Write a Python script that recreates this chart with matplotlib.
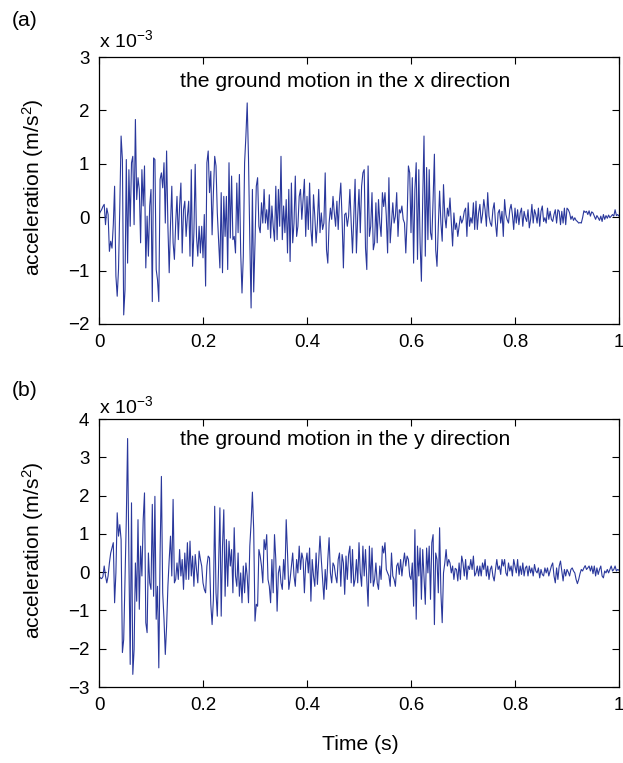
import matplotlib
matplotlib.use('Agg')
import matplotlib.pyplot as plt
import numpy as np

plt.rcParams['font.family'] = ['Liberation Sans', 'DejaVu Sans']
plt.rcParams['mathtext.fontset'] = 'custom'
plt.rcParams['mathtext.rm'] = 'Liberation Sans'
plt.rcParams['mathtext.it'] = 'Liberation Sans:italic'

# ground acceleration in units of 1e-3 m/s^2
# one row = 0.1 s (40 samples), last value is t = 1
acc_x = [
    0.05, 0.10, 0.14, 0.20, 0.24, -0.14, 0.17, 0.05, -0.64, -0.45, -0.58, -0.14, 0.58, -1.10, -1.48, -0.98, 0.20, 1.52, 1.08, -1.83,
    -1.36, 1.08, -0.86, 0.89, -0.17, 1.02, 1.14, -0.14, 1.83, 0.33, 0.74, 0.52, -0.48, 0.89, 0.21, 0.96, -0.95, 0.02, -0.73, 0.21,
    0.52, -1.58, 1.11, 1.08, -0.98, -1.17, -1.58, 0.71, 0.83, 0.55, 1.02, -0.11, 1.24, -0.17, -1.04, -0.14, 0.58, -0.48, -0.79, -0.11,
    0.39, -0.42, 0.21, 0.64, -0.67, 0.14, 0.30, -0.36, 0.02, 0.30, -0.73, 0.89, -0.92, -0.29, 0.99, -0.36, -0.73, -0.17, -0.67, -0.17,
    -0.76, 0.05, -1.29, 1.02, 1.24, 0.46, 0.86, -0.33, 0.46, 1.14, 0.96, 0.08, -0.45, -0.95, 0.46, -1.04, 0.39, -0.36, 0.39, -0.98,
    1.02, -0.39, 0.77, -0.42, -0.36, -0.67, 0.64, -0.29, 0.80, -0.67, -1.42, -0.73, 1.02, 1.52, 2.14, 1.10, -0.42, -1.70, 0.52, -1.40,
    -0.48, 0.58, 0.74, -0.17, -0.29, 0.27, -0.11, 0.52, -0.11, 0.14, -0.23, 0.42, -0.39, 0.21, -0.17, -0.45, 0.58, -0.42, 0.52, -0.17,
    1.14, -0.42, 0.21, -0.29, 0.33, -0.67, 0.52, -0.83, 0.64, -0.48, -0.11, 0.77, -0.36, -0.17, 0.39, 0.52, -0.04, 0.33, 0.71, -0.36,
    0.39, -0.23, 0.64, -0.23, -0.54, 0.42, 0.02, -0.48, -0.11, 0.52, -0.29, 0.08, -0.23, -0.11, 0.83, -0.61, -0.86, -0.11, 0.17, -0.04,
    0.39, 0.08, -0.17, 0.30, -0.23, 0.33, 0.64, -0.04, -0.95, 0.05, 0.08, -0.17, 0.02, 0.52, -0.11, -0.67, 0.02, 0.71, -0.67, 0.02,
    0.52, -0.29, 0.58, 0.83, 0.89, -0.58, -0.98, 0.96, -0.36, -0.17, 0.46, -0.61, -0.48, 0.27, -0.48, 0.33, -0.11, -0.36, 0.46, 0.20,
    0.46, 0.02, -0.67, 0.74, -0.48, -0.11, 0.27, -0.11, 0.02, 0.46, -0.36, 0.14, 0.08, 0.21, -0.04, -0.11, -0.67, -0.04, 0.96, 0.83,
    -0.29, 0.74, -0.86, 0.52, 1.02, -0.79, 0.89, -0.48, -1.20, 0.33, 1.52, -0.73, 0.93, -0.42, 0.89, -0.29, -0.42, 0.33, 1.18, -0.61,
    -0.92, -0.17, 0.49, -0.11, -0.45, 0.61, 0.02, -0.20, 0.17, 0.02, 0.36, -0.11, -0.54, 0.08, -0.23, -0.11, -0.36, -0.17, 0.02, -0.11,
    -0.04, 0.11, 0.17, -0.36, 0.27, -0.17, -0.01, -0.11, 0.27, -0.23, 0.30, -0.23, 0.08, 0.24, -0.11, 0.05, 0.33, 0.14, -0.17, 0.46,
    0.02, -0.11, -0.17, 0.14, 0.27, -0.11, -0.36, 0.08, 0.14, -0.11, 0.11, -0.36, 0.33, 0.05, -0.05, -0.11, 0.14, 0.24, 0.05, -0.23,
    0.17, -0.11, 0.14, -0.14, 0.08, 0.17, -0.17, 0.11, -0.01, -0.08, 0.14, -0.20, -0.04, 0.24, -0.11, 0.14, 0.05, -0.11, 0.17, -0.17,
    0.11, 0.21, -0.08, -0.01, -0.11, 0.17, -0.04, 0.11, -0.04, -0.08, 0.05, 0.14, -0.11, 0.14, 0.11, -0.14, 0.11, -0.11, 0.17, -0.14,
    0.17, 0.14, 0.08, -0.04, 0.02, -0.06, -0.01, -0.06, -0.08, -0.11, -0.10, -0.11, -0.01, 0.12, 0.09, 0.11, 0.05, 0.12, 0.02, 0.10,
    0.08, 0.02, -0.04, 0.03, -0.01, -0.06, 0.02, -0.08, 0.05, -0.04, 0.03, -0.02, 0.04, -0.01, 0.02, 0.05, 0.02, 0.14, 0.03, 0.05,
    0.02,
]

acc_y = [
    -0.10, -0.15, -0.17, -0.12, 0.16, -0.10, -0.28, -0.10, 0.24, 0.50, 0.63, 0.77, -0.80, -0.02, 1.55, 0.94, 1.24, 0.85, -2.10, -1.76,
    -0.19, 1.37, 3.49, 0.33, -2.41, 1.81, -2.67, -2.02, 0.24, -0.76, 1.37, -0.97, 0.68, -0.10, 1.37, 2.07, -1.32, -1.58, 0.50, -0.28,
    -0.45, 1.77, -0.63, 1.98, -1.23, -0.37, -2.50, 0.50, 2.50, -0.54, -1.23, -2.15, -1.41, -0.37, 0.33, 0.94, -0.10, 1.90, -0.28, -0.19,
    0.24, -0.19, 0.59, -0.10, 0.33, -0.45, 0.50, -0.19, 0.77, -0.19, 0.81, -0.10, 0.42, -0.37, 0.46, 0.07, -0.28, 0.55, 0.33, 0.16,
    -0.28, -0.45, -0.54, 0.16, 0.42, 0.37, -0.84, -1.37, -0.71, 1.72, -0.54, -1.15, 0.16, 1.68, -1.15, 0.68, 1.63, -0.63, 0.85, -0.37,
    0.81, 0.16, 0.59, -0.54, 1.16, -0.10, -0.37, 0.50, -0.63, -0.02, -0.80, 0.16, -0.54, 0.24, -0.10, -0.80, 0.68, 1.29, 2.09, 1.11,
    -1.28, -0.84, -0.89, 0.59, 0.42, 0.16, -0.28, 0.85, 0.59, 0.98, -0.19, -0.37, -0.80, 0.33, -0.54, 0.98, 0.33, -1.02, -0.02, 0.16,
    -0.28, -0.45, 0.33, -0.19, 1.37, 0.50, -0.45, -0.19, 0.16, 0.50, -0.10, -0.37, 0.33, -0.02, 0.68, 0.07, 0.50, 0.33, -0.54, 0.24,
    0.50, -0.02, 0.63, -0.76, 0.33, -0.10, -0.37, 0.50, -0.32, 0.33, 0.94, 0.33, -0.19, -0.71, 0.07, -0.45, 0.33, 0.90, -0.02, -0.28,
    0.24, 0.16, -0.10, -0.28, 0.33, 0.50, -0.37, 0.46, 0.24, -0.58, 0.42, -0.19, 0.46, 0.68, -0.28, 0.59, -0.37, -0.19, 0.33, -0.28,
    0.77, -0.02, -0.37, 0.68, -0.10, 0.59, -0.19, -0.89, 0.68, -0.28, 0.63, -0.37, -0.19, 0.24, -0.28, -0.45, 0.16, -0.19, 0.68, 0.50,
    0.77, 0.07, -0.02, -0.10, -0.37, 0.50, -0.10, -0.19, -0.37, 0.16, 0.24, -0.06, 0.33, -0.10, 0.24, 0.50, 0.16, 0.42, 0.33, -0.10,
    -0.19, 0.24, -0.89, 1.11, -1.23, 0.68, -0.10, 0.63, -0.71, 0.59, -0.10, -0.84, 0.63, -0.02, 0.68, -0.71, 0.77, 0.98, -1.37, 0.50,
    0.33, -0.54, 1.16, -0.54, -1.32, -0.02, 0.24, 0.59, 0.16, 0.33, 0.24, -0.02, 0.16, -0.19, 0.10, 0.07, -0.23, 0.24, -0.19, 0.42,
    0.24, -0.10, 0.33, -0.19, 0.16, 0.07, 0.33, 0.07, 0.42, -0.10, -0.02, 0.16, -0.10, 0.16, -0.10, 0.24, 0.07, 0.33, -0.10, 0.16,
    -0.19, 0.07, 0.16, -0.10, -0.23, 0.07, 0.33, 0.07, 0.16, -0.06, 0.33, 0.16, 0.33, -0.02, -0.10, 0.24, 0.03, 0.16, -0.10, 0.33,
    0.16, -0.02, 0.33, -0.10, 0.16, -0.06, 0.24, -0.10, 0.11, 0.16, -0.10, 0.16, -0.02, 0.11, -0.10, 0.20, 0.03, -0.02, 0.11, -0.15,
    0.07, -0.06, -0.10, 0.11, -0.02, 0.11, -0.10, 0.03, 0.16, 0.24, -0.10, -0.28, 0.11, -0.19, 0.16, 0.29, 0.03, -0.23, 0.07, -0.10,
    0.07, 0.00, -0.10, 0.07, 0.11, 0.03, -0.02, -0.19, -0.30, -0.19, -0.04, 0.07, 0.03, 0.11, 0.17, 0.07, 0.11, 0.16, 0.03, 0.16,
    -0.04, 0.16, -0.10, 0.11, -0.06, 0.07, 0.16, -0.10, -0.15, 0.03, -0.02, 0.07, -0.02, 0.07, 0.16, 0.03, 0.07, 0.16, 0.03, 0.07,
    0.05,
]

x_ticks = [0, 0.2, 0.4, 0.6, 0.8, 1]
x_labels = ['0', '0.2', '0.4', '0.6', '0.8', '1']
ylim_x = (-2, 3)
ylim_y = (-3, 4)

line_color = '#2a389c'
fs_tick = 13.5
fs_text = 15.2

fig = plt.figure(figsize=(6.23, 7.63), dpi=100)
ax1 = fig.add_axes([99 / 623, 1 - 324 / 763, 520 / 623, 267 / 763])
ax2 = fig.add_axes([99 / 623, 1 - 687 / 763, 520 / 623, 268 / 763])


def style(ax, acc, ylim, title, ty):
    t = np.linspace(0, 1, len(acc))
    ax.plot(t, acc, color=line_color, lw=0.8)
    ax.set_xlim(0, 1)
    ax.set_ylim(*ylim)
    ax.set_xticks(x_ticks)
    ax.set_xticklabels(x_labels)
    ax.set_yticks(np.arange(ylim[0], ylim[1] + 1))
    ax.tick_params(direction='in', top=True, right=True, length=5,
                   width=0.8, labelsize=fs_tick, pad=7)
    for s in ax.spines.values():
        s.set_linewidth(0.9)
    ax.text(0.474, ty, title, transform=ax.transAxes, ha='center',
            va='center', fontsize=fs_text)


style(ax1, acc_x, ylim_x, 'the ground motion in the x direction', 0.91)
style(ax2, acc_y, ylim_y, 'the ground motion in the y direction', 0.925)

fig.text(12 / 623, 1 - 20 / 763, '(a)', fontsize=fs_text, va='center')
fig.text(12 / 623, 1 - 390 / 763, '(b)', fontsize=fs_text, va='center')
fig.text(99 / 623, 1 - 47 / 763, r'x 10$^{-3}$', fontsize=fs_tick + 0.5, va='baseline')
fig.text(99 / 623, 1 - 413 / 763, r'x 10$^{-3}$', fontsize=fs_tick + 0.5, va='baseline')
fig.text(33 / 623, 1 - 187 / 763, r'acceleration (m/s$^2$)', fontsize=fs_text,
         rotation=90, ha='center', va='center')
fig.text(33 / 623, 1 - 550 / 763, r'acceleration (m/s$^2$)', fontsize=fs_text,
         rotation=90, ha='center', va='center')
fig.text(360 / 623, 1 - 745 / 763, 'Time (s)', fontsize=fs_text, ha='center',
         va='center')

fig.savefig('out.png', dpi=100)
